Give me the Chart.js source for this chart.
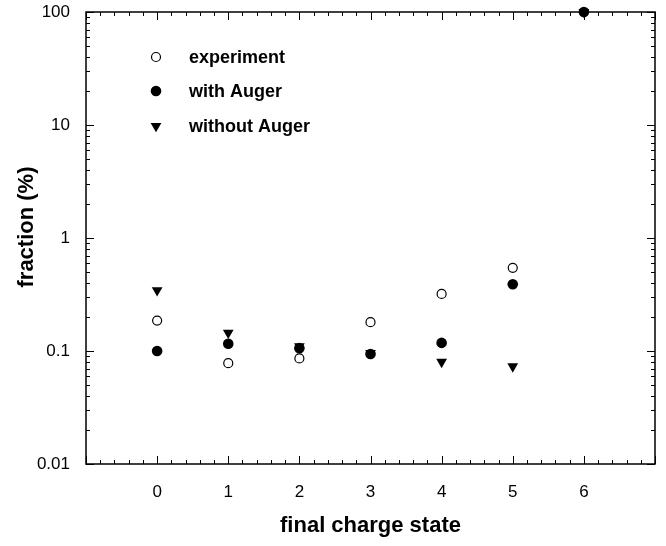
<!DOCTYPE html>
<html>
<head>
<meta charset="utf-8">
<script src="https://cdn.jsdelivr.net/npm/chart.js@4/dist/chart.umd.min.js"></script>
<style>
  html, body { margin: 0; padding: 0; background: #fff; }
  #c { display: block; }
</style>
</head>
<body>
<canvas id="c" width="666" height="546"></canvas>
<script>
// Final charge state distribution (fraction in %)
const chargeStates = [0, 1, 2, 3, 4, 5, 6];
const experiment   = [0.186, 0.078, 0.086, 0.180, 0.320, 0.545, null];
const withAuger    = [0.100, 0.116, 0.106, 0.094, 0.118, 0.390, 100];
const withoutAuger = [0.344, 0.145, 0.110, 0.096, 0.080, 0.073, 100];

const seriesNames  = ['experiment', 'with Auger', 'without Auger'];
const xTickLabels  = ['0', '1', '2', '3', '4', '5', '6'];
const yTickValues  = [0.01, 0.1, 1, 10, 100];
const yTickLabels  = ['0.01', '0.1', '1', '10', '100'];
const xTitle = 'final charge state';
const yTitle = 'fraction (%)';

const FONT = "'Liberation Sans', Arial, Helvetica, sans-serif";

function points(values) {
  return chargeStates.map((x, i) => ({ x: x, y: values[i] }))
                     .filter(p => p.y !== null);
}

// Frame with inward major/minor ticks on all four sides
const frameTicks = {
  id: 'frameTicks',
  beforeDatasetsDraw(chart) {
    const { ctx, chartArea: a, scales: { x, y } } = chart;
    ctx.save();
    ctx.strokeStyle = '#000';
    ctx.lineWidth = 1;
    ctx.beginPath();
    for (let i = -5; i <= 35; i++) {
      const px = Math.round(x.getPixelForValue(i / 5)) + 0.5;
      const len = (i % 5 === 0) ? 8 : 4;
      ctx.moveTo(px, a.bottom); ctx.lineTo(px, a.bottom - len);
      ctx.moveTo(px, a.top);    ctx.lineTo(px, a.top + len);
    }
    for (let d = -2; d <= 2; d++) {
      for (let m = 1; m <= 9; m++) {
        const v = m * Math.pow(10, d);
        if (v > 100.0001) break;
        const py = Math.round(y.getPixelForValue(v)) + 0.5;
        const len = (m === 1) ? 8 : 4;
        ctx.moveTo(a.left, py);  ctx.lineTo(a.left + len, py);
        ctx.moveTo(a.right, py); ctx.lineTo(a.right - len, py);
      }
    }
    ctx.stroke();
    ctx.lineWidth = 1.5;
    ctx.strokeRect(a.left, a.top, a.right - a.left, a.bottom - a.top);
    ctx.restore();
  }
};

// Vertical axis title
const yAxisTitle = {
  id: 'yAxisTitle',
  afterDraw(chart) {
    const { ctx } = chart;
    ctx.save();
    ctx.translate(27, 227);
    ctx.rotate(-Math.PI / 2);
    ctx.fillStyle = '#000';
    ctx.font = 'bold 22px ' + FONT;
    ctx.textAlign = 'center';
    ctx.textBaseline = 'middle';
    ctx.fillText(yTitle, 0, 0);
    ctx.restore();
  }
};

// Legend drawn inside the plot area
const insideLegend = {
  id: 'insideLegend',
  afterDraw(chart) {
    const { ctx } = chart;
    const mx = 156, tx = 189, rows = [57, 91, 126];
    ctx.save();
    chart.data.datasets.forEach((ds, i) => {
      const y = rows[i];
      ctx.fillStyle = ds.backgroundColor;
      ctx.strokeStyle = ds.borderColor;
      ctx.lineWidth = ds.borderWidth;
      ctx.beginPath();
      if (ds.pointStyle === 'triangle') {
        const r = ds.pointRadius;
        ctx.moveTo(mx, y + r);
        ctx.lineTo(mx - r * Math.sin(Math.PI / 3), y - r / 2);
        ctx.lineTo(mx + r * Math.sin(Math.PI / 3), y - r / 2);
        ctx.closePath();
      } else {
        ctx.arc(mx, y, ds.pointRadius, 0, Math.PI * 2);
      }
      ctx.fill();
      if (ds.borderWidth) ctx.stroke();
      ctx.fillStyle = '#000';
      ctx.font = 'bold 18px ' + FONT;
      ctx.textAlign = 'left';
      ctx.textBaseline = 'middle';
      ctx.fillText(ds.label, tx, y + 1);
    });
    ctx.restore();
  }
};

new Chart(document.getElementById('c'), {
  type: 'scatter',
  data: {
    datasets: [
      {
        label: seriesNames[0],
        data: points(experiment),
        pointStyle: 'circle',
        pointRadius: 4.5,
        borderWidth: 1.2,
        borderColor: '#000',
        backgroundColor: '#fff',
        clip: false
      },
      {
        label: seriesNames[1],
        data: points(withAuger),
        pointStyle: 'circle',
        pointRadius: 5.3,
        borderWidth: 0,
        borderColor: '#000',
        backgroundColor: '#000',
        clip: false
      },
      {
        label: seriesNames[2],
        data: points(withoutAuger),
        pointStyle: 'triangle',
        pointRotation: 180,
        pointRadius: 6.2,
        borderWidth: 0,
        borderColor: '#000',
        backgroundColor: '#000',
        clip: false
      }
    ]
  },
  options: {
    responsive: false,
    devicePixelRatio: 1,
    animation: false,
    events: [],
    layout: { padding: { top: 12, right: 11, left: 0, bottom: 0 } },
    plugins: { legend: { display: false }, tooltip: { enabled: false } },
    scales: {
      x: {
        type: 'linear',
        min: -1,
        max: 7,
        grid: { display: false, drawTicks: false },
        border: { display: false },
        afterBuildTicks: s => { s.ticks = chargeStates.map(v => ({ value: v })); },
        afterFit: s => { s.height = 82; s.paddingLeft = 0; s.paddingRight = 0; },
        ticks: {
          autoSkip: false,
          maxRotation: 0,
          padding: 18,
          color: '#000',
          font: { family: FONT, size: 17 },
          callback: v => xTickLabels[chargeStates.indexOf(v)]
        },
        title: {
          display: true,
          text: xTitle,
          color: '#000',
          font: { family: FONT, size: 22, weight: 'bold' },
          padding: { top: 0, bottom: 7 }
        }
      },
      y: {
        type: 'logarithmic',
        min: 0.01,
        max: 100,
        grid: { display: false, drawTicks: false },
        border: { display: false },
        afterBuildTicks: s => { s.ticks = yTickValues.map(v => ({ value: v })); },
        afterFit: s => { s.width = 86; s.paddingTop = 0; s.paddingBottom = 0; },
        ticks: {
          autoSkip: false,
          padding: 16,
          color: '#000',
          font: { family: FONT, size: 17 },
          callback: v => yTickLabels[yTickValues.indexOf(v)]
        }
      }
    }
  },
  plugins: [frameTicks, yAxisTitle, insideLegend]
});
</script>
</body>
</html>
